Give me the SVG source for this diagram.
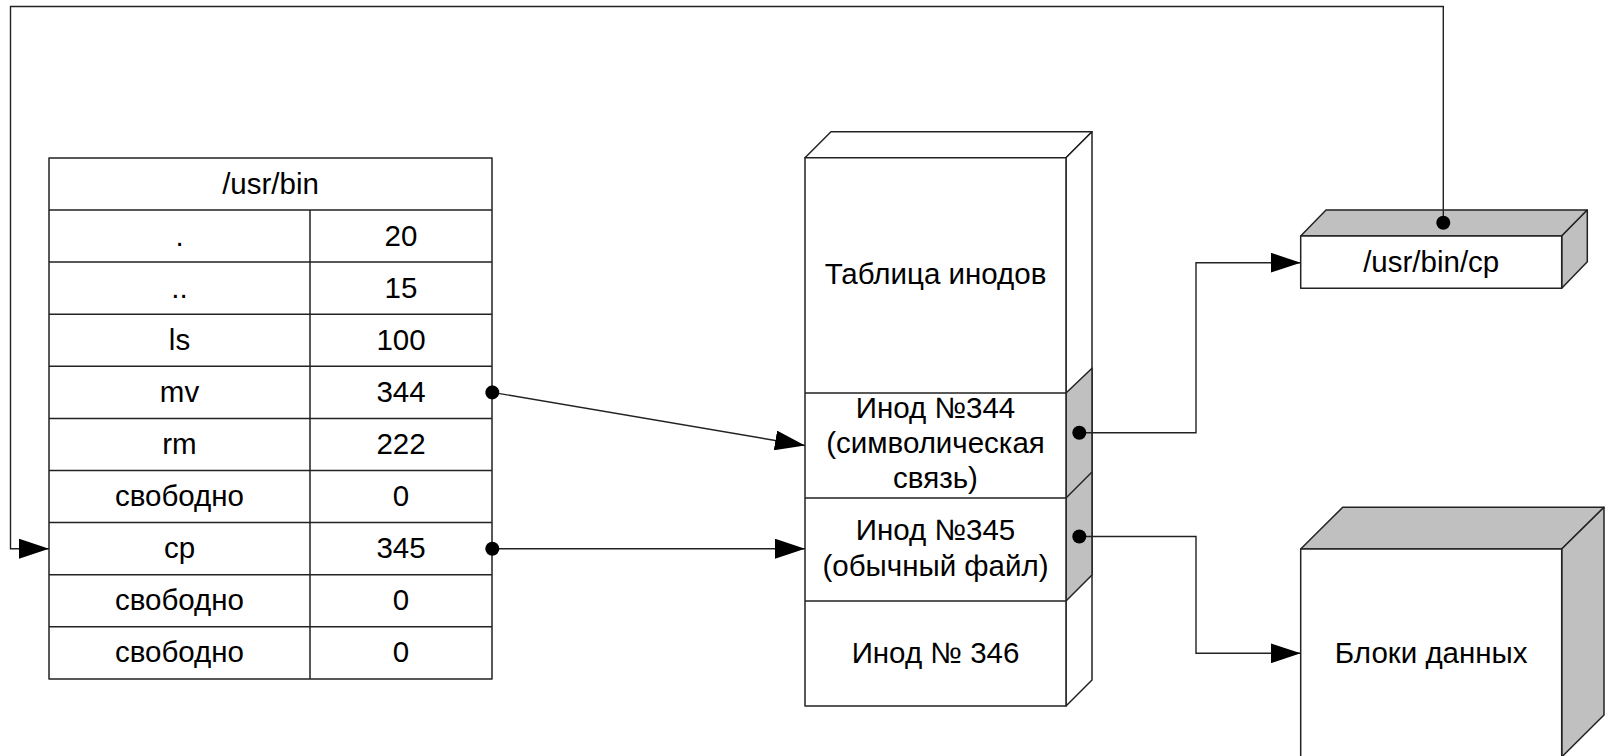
<svg xmlns="http://www.w3.org/2000/svg" width="1606" height="756" viewBox="0 0 1606 756">
<defs>
<marker id="arr" markerUnits="userSpaceOnUse" markerWidth="30" markerHeight="20" refX="30" refY="10" orient="auto"><path d="M0,0 L30,10 L0,20 z" fill="#000"/></marker>
<marker id="dot" markerUnits="userSpaceOnUse" markerWidth="16" markerHeight="16" refX="8" refY="8" orient="auto"><circle cx="8" cy="8" r="7" fill="#000"/></marker>
</defs>
<style>
text{font-family:"Liberation Sans",Arial,sans-serif;font-size:29.5px;fill:#000;text-anchor:middle}
.ln{fill:none;stroke:#222;stroke-width:1.5}
.face{fill:#fff;stroke:#222;stroke-width:1.5;stroke-linejoin:round}
.shade{fill:#c0c0c0;stroke:#222;stroke-width:1.5;stroke-linejoin:round}
.con{fill:none;stroke:#222;stroke-width:1.4}
</style>
<rect width="1606" height="756" fill="#fff"/>
<g id="dir-table">
<rect class="face" x="49" y="158" width="443" height="521"/>
<path class="ln" d="M49,210H492 M49,262.1H492 M49,314.2H492 M49,366.3H492 M49,418.4H492 M49,470.5H492 M49,522.6H492 M49,574.7H492 M49,626.8H492 M310,210V679"/>
<text x="270.5" y="194">/usr/bin</text>
<text x="179.5" y="246">.</text><text x="401" y="246">20</text>
<text x="179.5" y="298">..</text><text x="401" y="298">15</text>
<text x="179.5" y="350">ls</text><text x="401" y="350">100</text>
<text x="179.5" y="402">mv</text><text x="401" y="402">344</text>
<text x="179.5" y="454">rm</text><text x="401" y="454">222</text>
<text x="179.5" y="506">свободно</text><text x="401" y="506">0</text>
<text x="179.5" y="558">cp</text><text x="401" y="558">345</text>
<text x="179.5" y="610">свободно</text><text x="401" y="610">0</text>
<text x="179.5" y="662">свободно</text><text x="401" y="662">0</text>
</g>
<g id="inode-table">
<path class="face" d="M805,157.7 L831,131.7 L1092,131.7 L1066,157.7 Z"/>
<path class="face" d="M1066,157.7 L1092,131.7 L1092,680 L1066,706 Z"/>
<path class="shade" d="M1066,393 L1092,368.3 L1092,575 L1066,601 Z"/>
<path class="ln" d="M1066,498 L1092,472"/>
<rect class="face" x="805" y="157.7" width="261" height="548.3"/>
<path class="ln" d="M805,393H1066 M805,498H1066 M805,601H1066"/>
<text x="935.5" y="284">Таблица инодов</text>
<text x="935.5" y="418">Инод №344</text>
<text x="935.5" y="453">(символическая</text>
<text x="935.5" y="488">связь)</text>
<text x="935.5" y="540">Инод №345</text>
<text x="935.5" y="576">(обычный файл)</text>
<text x="935.5" y="663">Инод № 346</text>
</g>
<g id="cp-file">
<path class="shade" d="M1300.7,236 L1326,210 L1587.3,210 L1561.7,236 Z"/>
<path class="shade" d="M1561.7,236 L1587.3,210 L1587.3,261.7 L1561.7,288.3 Z"/>
<rect class="face" x="1300.7" y="236" width="261" height="52.3"/>
<text x="1431.2" y="272">/usr/bin/cp</text>
</g>
<g id="data-blocks">
<path class="shade" d="M1300.7,549 L1342.7,507.3 L1604,507.3 L1561.7,549 Z"/>
<path class="shade" d="M1561.7,549 L1604,507.3 L1604,715 L1561.7,757 Z"/>
<rect class="face" x="1300.7" y="549" width="261" height="215"/>
<text x="1431.2" y="663">Блоки данных</text>
</g>
<g id="connectors">
<path class="con" d="M492.3,392.4 L805,445.5" marker-start="url(#dot)" marker-end="url(#arr)"/>
<path class="con" d="M492.3,548.7 L805,548.7" marker-start="url(#dot)" marker-end="url(#arr)"/>
<path class="con" d="M1079.3,432.7 H1196 V262.7 H1300.7" marker-start="url(#dot)" marker-end="url(#arr)"/>
<path class="con" d="M1079.3,536.5 H1196 V653.3 H1300.7" marker-start="url(#dot)" marker-end="url(#arr)"/>
<path class="con" d="M1443.3,222.7 V6.5 H10.5 V548.7 H49" marker-start="url(#dot)" marker-end="url(#arr)"/>
</g>
</svg>
